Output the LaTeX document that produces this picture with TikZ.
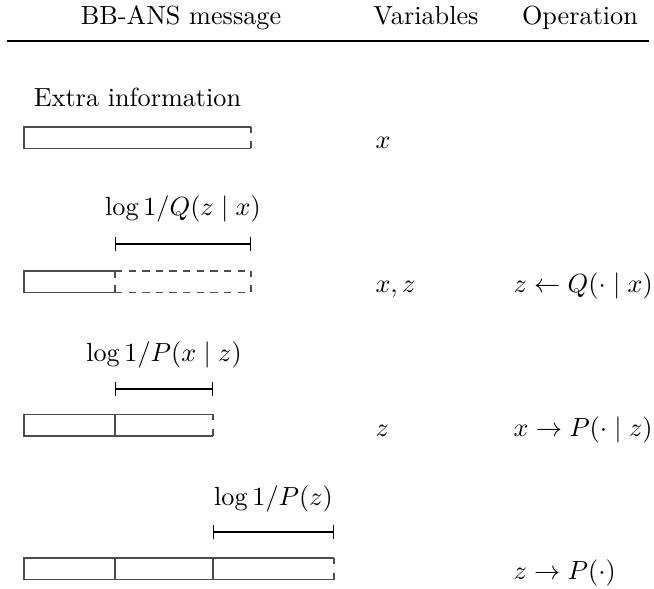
\documentclass[tikz,border=0pt]{standalone}
\usetikzlibrary{arrows.meta}
\begin{document}
\begin{tikzpicture}[x=0.3817pt,y=-0.3817pt,
  barline/.style={draw=black!70, line width=0.55pt},
  dashline/.style={barline, dash pattern=on 2.8pt off 2.4pt},
  measure/.style={draw=black, line width=0.45pt, {Bar[width=5.6pt]}-{Bar[width=5.6pt]}},
  txt/.style={inner sep=0pt, anchor=base},
  lft/.style={inner sep=0pt, anchor=base west}]
\useasboundingbox (0,0) rectangle (654,589);
% header
\node[txt] (hmsg) at (181,25) {BB-ANS message};
\node[txt] (hvar) at (426,25) {Variables};
\node[txt] (hop)  at (580,25) {Operation};
\coordinate (rl) at (7,41);
\coordinate (rr) at (649,41);
\draw[line width=0.8pt] (rl) -- (rr);

% row 1
\node[txt] (extra) at (137.5,107) {Extra information};
\draw[barline] (251,127) -- (24,127) -- (24,148.5) -- (251,148.5);
\draw[barline] (251,127) -- (251,133);
\draw[barline] (251,141.5) -- (251,148.5);
\node[lft] (v1) at (375,148.5) {$x$};

% row 2
\node[txt] (lq) at (183,216) {$\log 1/Q(z\mid x)$};
\coordinate (q1) at (115,244);
\coordinate (q2) at (251,244);
\draw[measure] (q1) -- (q2);
\draw[barline] (115,271) -- (24,271) -- (24,292.5) -- (115,292.5);
\draw[dashline] (115,271) -- (251,271);
\draw[dashline] (115,292.5) -- (251,292.5);
\draw[dashline] (115,271) -- (115,292.5);
\draw[barline] (251,271) -- (251,277);
\draw[barline] (251,285.5) -- (251,292.5);
\node[lft] (v2) at (375,292.5) {$x, z$};
\node[lft] (o2) at (513,292.5) {$z \leftarrow Q(\cdot\mid x)$};

% row 3
\node[txt] (lpx) at (164,362) {$\log 1/P(x\mid z)$};
\coordinate (p1) at (115,389);
\coordinate (p2) at (213,389);
\draw[measure] (p1) -- (p2);
\draw[barline] (213,414.5) -- (24,414.5) -- (24,436) -- (213,436);
\draw[barline] (115,414.5) -- (115,436);
\draw[barline] (213,414.5) -- (213,420.5);
\draw[barline] (213,429) -- (213,436);
\node[lft] (v3) at (375,436) {$z$};
\node[lft] (o3) at (513,436) {$x \rightarrow P(\cdot\mid z)$};

% row 4
\node[txt] (lpz) at (273.5,505) {$\log 1/P(z)$};
\coordinate (r1) at (213,532);
\coordinate (r2) at (334,532);
\draw[measure] (r1) -- (r2);
\draw[barline] (334,558) -- (24,558) -- (24,579.5) -- (334,579.5);
\draw[barline] (115,558) -- (115,579.5);
\draw[barline] (213,558) -- (213,579.5);
\draw[barline] (334,558) -- (334,564);
\draw[barline] (334,572.5) -- (334,579.5);
\node[lft] (o4) at (513,579.5) {$z \rightarrow P(\cdot)$};
\end{tikzpicture}
\end{document}
